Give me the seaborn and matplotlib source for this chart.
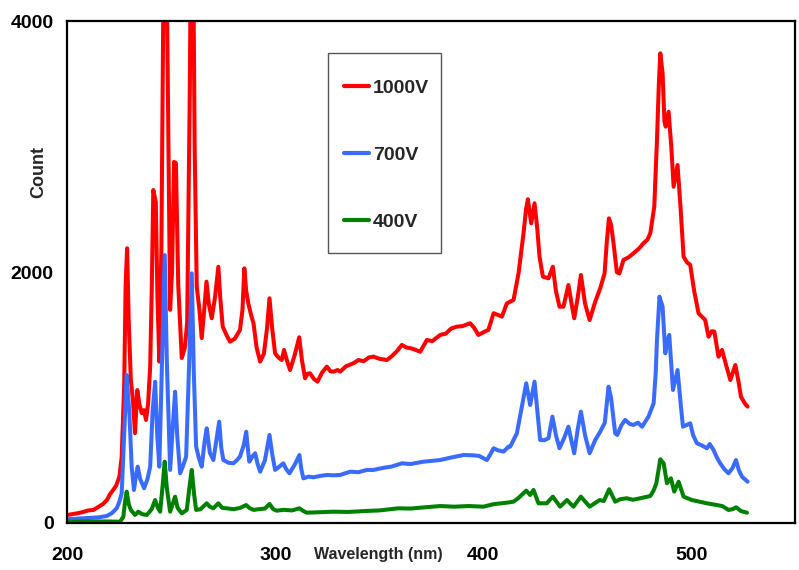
import numpy as np
import pandas as pd
import matplotlib
matplotlib.use("Agg")
import matplotlib.pyplot as plt
from matplotlib.patches import Rectangle
import seaborn as sns

# ---------------- data ----------------
wl_1000 = [200.0, 204, 207, 210, 212.5, 215, 217, 219, 220.5, 222, 223.5, 225, 226.1, 227.3, 228.0, 228.7,
           229.5, 230.5, 231.5, 232.5, 233.6, 234.6, 235.7, 236.8, 237.8, 238.8, 239.8, 240.6, 241.3, 242.5,
           243.3, 244.2, 245.2, 246.3, 247.0, 247.8, 248.6, 249.4, 250.3, 251.3, 252.2, 253.3, 255.0, 256.5,
           257.6, 258.9, 259.6, 260.3, 261.2, 262.2, 263.5, 264.6, 265.8, 266.9, 268.0, 269.4, 271.0, 272.6,
           273.5, 274.7, 276.5, 278.2, 280.5, 283.0, 284.2, 285.1, 286.0, 287.0, 288.5, 289.5, 291.0, 292.7,
           294.5, 296.0, 297.2, 298.5, 299.9, 301.5, 303.1, 304.2, 305.5, 307.1, 309.5, 311.5, 312.8, 314.3,
           315.5, 316.7, 318.5, 320.3, 322.5, 324.8, 326.5, 328.0, 330.0, 331.2, 334, 337.6, 340, 342.5, 345,
           347.2, 350, 353.7, 356, 358.5, 360.9, 363, 366, 369.7, 372.9, 375.5, 379.3, 382, 384.5, 387.3, 390,
           393.7, 395.5, 397.7, 400, 402.5, 405, 407, 409, 411.4, 414.6, 417, 419.4, 420.6, 421.5, 423.1,
           424.7, 426, 427.1, 428.7, 431.4, 433.5, 435, 436.7, 438.6, 441, 442.5, 443.8, 445.5, 447, 449,
           451.2, 453.9, 456.3, 458.4, 459.5, 460.5, 461.5, 462.7, 464.3, 465.5, 467.5, 470, 472.3, 475,
           477.1, 479, 480.4, 482.3, 483.6, 484.5, 485.2, 486.3, 487.2, 487.8, 489.2, 490.5, 491.6, 493.5,
           495, 496.4, 498, 499.6, 501.5, 503.6, 505.5, 506.8, 508.4, 510, 511.2, 513.2, 514.9, 517, 518.9,
           521.3, 522.8, 524.0, 526, 527.2]
cnt_1000 = [64, 75, 85, 100, 104, 130, 150, 183, 230, 263, 300, 370, 529, 1100, 1900, 2191,
            1600, 1140, 980, 717, 1060, 950, 877, 900, 822, 950, 1247, 1900, 2656, 2560,
            1800, 1287, 2200, 4500, 5200, 4300, 2960, 1700, 2000, 2880, 2870, 1900, 1316, 1400,
            1600, 3500, 5200, 5000, 3000, 1885, 1700, 1475, 1700, 1925, 1750, 1633, 1800, 2044,
            1800, 1566, 1500, 1446, 1470, 1539, 1700, 2031, 1850, 1752, 1650, 1593, 1400, 1287,
            1350, 1550, 1792, 1550, 1353, 1320, 1300, 1380, 1300, 1220, 1350, 1481, 1300, 1154,
            1190, 1194, 1150, 1127, 1200, 1247, 1210, 1207, 1220, 1207, 1250, 1274, 1300, 1290, 1320,
            1327, 1310, 1300, 1330, 1370, 1420, 1400, 1390, 1366, 1460, 1450, 1500, 1510, 1550, 1566, 1570,
            1593, 1560, 1500, 1520, 1540, 1673, 1660, 1646, 1752, 1779, 1991, 2311, 2500, 2582, 2390,
            2550, 2350, 2124, 1965, 1952, 2044, 1850, 1725, 1725, 1898, 1750, 1633, 1800, 1978, 1750,
            1619, 1765, 1872, 1991, 2250, 2430, 2380, 2231, 2000, 1990, 2098, 2120, 2151, 2190,
            2231, 2260, 2311, 2523, 3055, 3500, 3746, 3587, 3200, 3161, 3280, 3000, 2682, 2855,
            2500, 2124, 2080, 2058, 1850, 1672, 1640, 1619, 1486, 1530, 1526, 1326, 1380, 1250, 1140,
            1260, 1130, 1007, 950, 928]

wl_700 = [200, 205, 210, 215, 219, 221.5, 223.7, 225, 226.1, 227.3, 228.5, 229.2, 229.8, 230.9, 232.0, 233.0,
          233.8, 235.0, 236.9, 238.5, 239.8, 241.0, 242.2, 243.2, 244.2, 245.5, 246.8, 247.8, 249.4, 250.8,
          251.8, 252.8, 254.2, 255.5, 257.1, 258.6, 259.8, 260.8, 261.9, 263.2, 264.6, 266.0, 267.0, 268.5,
          270.2, 272.0, 273.0, 274.0, 275.0, 277.5, 279.8, 281.5, 283.0, 284.8, 286.0, 287.0, 287.5, 289.0,
          290.3, 291.5, 292.7, 295.0, 297.2, 298.5, 299.9, 302, 303.9, 305.2, 306.8, 309.5, 311.6, 312.5,
          313.5, 316, 318.3, 321.5, 324.8, 328, 331.2, 336, 340, 344, 347.2, 352, 356, 360.9, 365, 371.3,
          375, 379.3, 384, 390.5, 395, 398, 401.8, 403.5, 405, 407, 409.8, 412.2, 413, 416.2, 418.6, 420.7,
          422.6, 424.7, 426, 427.4, 429.5, 431.4, 433.3, 435, 436.7, 439, 441, 442.5, 443.8, 445.5, 447,
          449, 451.2, 453.9, 456.3, 458.5, 460.3, 461.5, 463.5, 464.5, 466.5, 468.3, 470.5, 472.3, 474.5,
          476.4, 479.5, 482.0, 483.0, 483.6, 484.8, 486.3, 487.6, 488.5, 489.5, 491.3, 493.5, 495, 496.1,
          499.6, 501, 502.8, 505, 507.6, 509, 510.8, 512.5, 514, 516, 518, 520, 521.6, 523, 524.5, 527.2]
cnt_700 = [30, 35, 40, 45, 56, 80, 117, 170, 237, 700, 1180, 1000, 877, 449, 263, 380,
           449, 350, 277, 350, 449, 900, 1127, 700, 449, 1300, 2137, 1300, 423, 800,
           1047, 700, 396, 450, 529, 1300, 1991, 1200, 609, 520, 449, 650, 755, 560,
           502, 700, 808, 600, 502, 480, 476, 500, 529, 620, 728, 560, 489, 530,
           556, 470, 409, 500, 702, 550, 423, 450, 476, 430, 396, 470, 542, 430,
           356, 370, 364, 375, 383, 380, 383, 409, 405, 423, 423, 440, 450, 476, 470, 489,
           495, 502, 520, 542, 540, 535, 502, 550, 596, 580, 569, 609, 609, 715, 928, 1114,
           941, 1127, 900, 662, 660, 676, 848, 700, 596, 680, 768, 650, 556, 750, 888,
           700, 556, 662, 728, 800, 1087, 1000, 715, 702, 780, 822, 790, 782, 800,
           768, 848, 955, 1200, 1460, 1805, 1725, 1353, 1450, 1500, 1061, 1220, 950, 768,
           795, 700, 636, 620, 596, 630, 582, 520, 476, 430, 396, 440, 502, 420, 369, 329]

wl_400 = [200, 210, 220, 225.3, 226.9, 227.8, 228.5, 229.5, 230.5, 232.5, 234.1, 236, 238.2, 240.5, 242.2,
          243.5, 244.6, 245.8, 246.8, 247.8, 249.4, 250.8, 251.8, 253, 255, 257.4, 258.8, 259.8, 261, 261.9,
          264, 267, 268.5, 270.2, 272.6, 274.5, 276.7, 280, 283, 286, 287.5, 289.5, 292, 295, 297.2, 299,
          300.7, 304, 308, 311.6, 313.5, 315.2, 320, 328, 335, 344, 350, 359.2, 365, 372, 379.3, 386, 393,
          400.1, 405, 411.4, 414.6, 417, 420.7, 422.6, 424.2, 426.6, 430.6, 433.5, 437, 440.3, 443.4, 447,
          451.2, 456, 458, 460.6, 463.5, 466, 469.1, 472, 475.5, 480.4, 482, 483.3, 485.2, 486.8, 488.4,
          490.3, 491.9, 494, 496.4, 500.4, 504, 507.6, 512.4, 515, 518, 520, 521.7, 524, 526.9]
cnt_400 = [10, 12, 12, 10, 50, 180, 250, 150, 104, 64, 90, 70, 64, 110, 183,
           120, 90, 300, 489, 280, 90, 160, 210, 120, 77, 104, 300, 423, 220, 104,
           110, 157, 130, 117, 157, 120, 117, 110, 120, 143, 120, 104, 110, 115, 152, 110,
           98, 105, 100, 117, 95, 82, 85, 90, 88, 96, 100, 117, 115, 125, 135, 130, 135,
           130, 150, 162, 170, 200, 258, 223, 263, 157, 157, 210, 130, 183, 130, 210,
           130, 183, 175, 269, 170, 190, 197, 185, 197, 215, 260, 317, 508, 476, 317,
           356, 250, 329, 210, 183, 170, 157, 143, 135, 104, 110, 125, 95, 82]

series_names = ["1000V", "700V", "400V"]
series_colors = ["#FF0000", "#3A6BFF", "#008000"]
x_ticks = [200, 300, 400, 500]
y_ticks = [0, 2000, 4000]

# ---------------- build table ----------------
frames = []
for name, wl, cnt in zip(series_names, [wl_1000, wl_700, wl_400], [cnt_1000, cnt_700, cnt_400]):
    frames.append(pd.DataFrame({"Wavelength": wl, "Count": cnt, "Series": name}))
df = pd.concat(frames, ignore_index=True)

sns.set_style("white")
plt.rcParams["font.family"] = ["Liberation Sans", "DejaVu Sans"]
plt.rcParams["font.weight"] = "bold"

fig = plt.figure(figsize=(7.99, 5.70), dpi=100)
ax = fig.add_axes([0.0844, 0.0825, 0.9106, 0.8798])

sns.lineplot(data=df, x="Wavelength", y="Count", hue="Series", hue_order=series_names,
             palette=dict(zip(series_names, series_colors)), estimator=None, sort=False,
             linewidth=2.9, ax=ax)

ax.set_xlim(200, 550)
ax.set_ylim(0, 4000)
ax.set_xticks(x_ticks)
ax.set_xticklabels([str(t) for t in x_ticks])
ax.set_yticks(y_ticks)
ax.set_yticklabels([str(t) for t in y_ticks])
ax.tick_params(axis="both", direction="in", length=5, width=1.5, colors="black", labelsize=14)
ax.tick_params(axis="x", pad=17)
ax.tick_params(axis="y", pad=10)
for lab in ax.get_xticklabels() + ax.get_yticklabels():
    lab.set_fontweight("bold")

for sp in ax.spines.values():
    sp.set_color("black")
    sp.set_linewidth(1.6)

ax.set_xlabel("Wavelength (nm)", fontsize=11.5, fontweight="bold", va="center")
ax.xaxis.set_label_coords(0.427, -0.063)
ax.set_ylabel("Count", fontsize=13, fontweight="bold", va="center")
ax.yaxis.set_label_coords(-0.040, 0.70)

# legend frame (drawn separately so that its size matches the reference box)
ax.add_patch(Rectangle((0.358, 0.538), 0.155, 0.399, transform=ax.transAxes,
                       facecolor="white", edgecolor="#555555", linewidth=1.0, zorder=4))

handles, labels = ax.get_legend_handles_labels()
leg = ax.legend(handles, labels, loc="upper left", bbox_to_anchor=(0.380, 0.885),
                frameon=False, prop={"size": 14, "weight": "bold"}, handlelength=1.3,
                handletextpad=0.2, labelspacing=2.55, borderpad=0, borderaxespad=0)
leg.set_zorder(5)
for h in leg.get_lines():
    h.set_linewidth(3)

fig.savefig("out.png", dpi=100)
